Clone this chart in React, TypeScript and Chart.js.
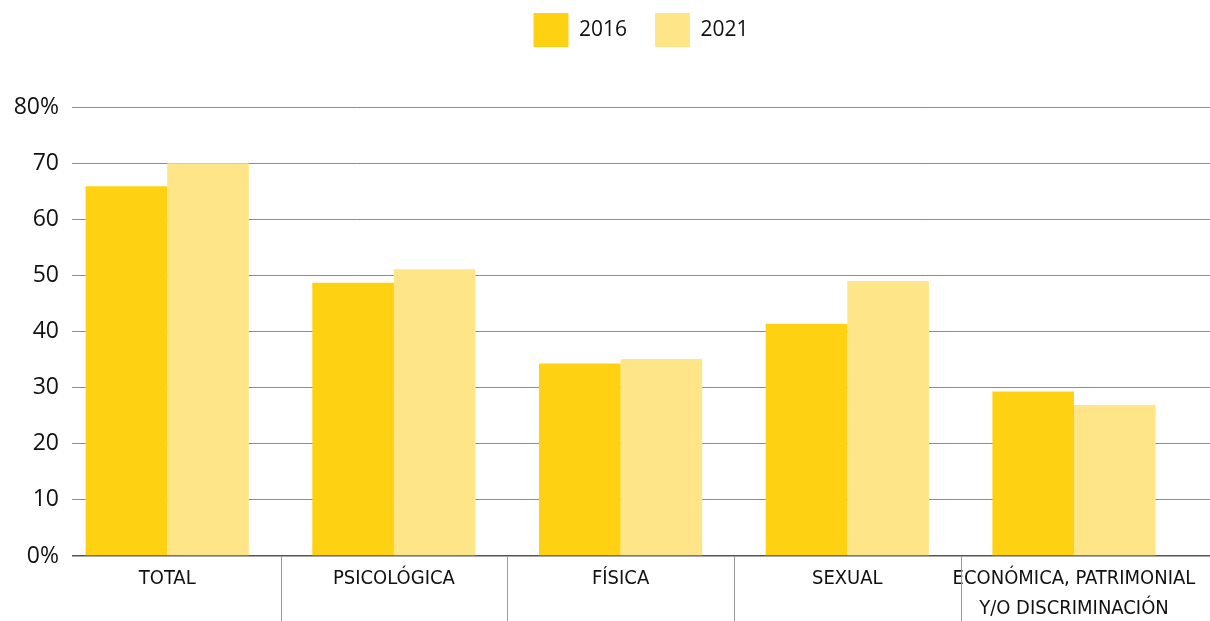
import React, { useEffect, useRef } from "react";
import { Chart, registerables } from "chart.js";

Chart.register(...registerables);

const categories: string[][] = [
  ["TOTAL"],
  ["PSICOLÓGICA"],
  ["FÍSICA"],
  ["SEXUAL"],
  ["ECONÓMICA, PATRIMONIAL", "Y/O DISCRIMINACIÓN"],
];
const seriesNames = ["2016", "2021"];
const values2016 = [65.9, 48.7, 34.3, 41.4, 29.3];
const values2021 = [70.0, 51.1, 35.1, 49.0, 26.9];
const yTickValues = [0, 10, 20, 30, 40, 50, 60, 70, 80];
const yTickLabels = ["0%", "10", "20", "30", "40", "50", "60", "70", "80%"];

const COLOR_2016 = "#FED113";
const COLOR_2021 = "#FEE688";

const separatorPlugin = {
  id: "separators",
  afterDraw(chart: any) {
    const x = chart.scales.x;
    const { ctx, chartArea } = chart;
    ctx.save();
    ctx.strokeStyle = "#9a9a9a";
    ctx.lineWidth = 1;
    for (let i = 0; i < categories.length - 1; i++) {
      const px = Math.round(x.getPixelForValue(i + 0.5)) + 0.5;
      ctx.beginPath();
      ctx.moveTo(px, chartArea.bottom);
      ctx.lineTo(px, chart.height);
      ctx.stroke();
    }
    ctx.restore();
  },
};

export default function App() {
  const ref = useRef<HTMLCanvasElement | null>(null);
  useEffect(() => {
    if (!ref.current) return;
    const chart = new Chart(ref.current, {
      type: "bar",
      data: {
        datasets: [
          {
            label: seriesNames[0],
            data: values2016.map((v, i) => ({ x: i, y: v })),
            backgroundColor: COLOR_2016,
            borderWidth: 0,
            xAxisID: "x",
            yAxisID: "y",
            categoryPercentage: 0.72,
            barPercentage: 1,
          },
          {
            label: seriesNames[1],
            data: values2021.map((v, i) => ({ x: i, y: v })),
            backgroundColor: COLOR_2021,
            borderWidth: 0,
            xAxisID: "x",
            yAxisID: "y",
            categoryPercentage: 0.72,
            barPercentage: 1,
          },
        ],
      },
      plugins: [separatorPlugin],
      options: {
        animation: false,
        responsive: true,
        maintainAspectRatio: false,
        layout: { padding: { top: -15, left: 0, right: 0, bottom: 0 } },
        plugins: {
          legend: {
            position: "top",
            align: "center",
            fullSize: false,
            labels: {
              boxWidth: 35,
              boxHeight: 34,
              padding: 28,
              color: "#111",
              font: { family: "'Open Sans', sans-serif", size: 21 },
            },
          },
          tooltip: { enabled: false },
        },
        scales: {
          x: {
            type: "linear",
            min: -0.42,
            max: 4.6,
            offset: false,
            grid: { display: false, drawTicks: false },
            border: { display: false },
            afterBuildTicks: (s: any) => {
              s.ticks = categories.map((_, i) => ({ value: i }));
            },
            afterFit: (s: any) => {
              s.height = 65;
            },
            ticks: {
              padding: 8,
              color: "#111",
              autoSkip: false,
              maxRotation: 0,
              font: { family: "'Liberation Sans Narrow', 'DejaVu Sans Condensed', sans-serif", size: 20, lineHeight: 1.5 },
              callback: (v: any) => categories[Math.round(Number(v))] ?? "",
            },
          },
          spacer: {
            type: "linear",
            position: "top",
            axis: "x",
            display: true,
            grid: { display: false },
            border: { display: false },
            ticks: { display: false },
            afterFit: (s: any) => {
              s.height = 50;
            },
          },
          y: {
            type: "linear",
            min: 0,
            max: 80,
            afterBuildTicks: (s: any) => {
              s.ticks = yTickValues.map((v) => ({ value: v }));
            },
            afterFit: (s: any) => {
              s.width = 72;
            },
            border: { display: false },
            grid: {
              drawTicks: false,
              color: (c: any) => (c.tick && c.tick.value === 0 ? "#555" : "#8c8c8c"),
              lineWidth: (c: any) => (c.tick && c.tick.value === 0 ? 1.5 : 1),
            },
            ticks: {
              padding: 13,
              color: "#111",
              font: { family: "'Open Sans', sans-serif", size: 23 },
              callback: (v: any) => {
                const idx = yTickValues.indexOf(Number(v));
                return idx >= 0 ? yTickLabels[idx] : "";
              },
            },
          },
        },
      },
    } as any);
    return () => chart.destroy();
  }, []);

  return (
    <div style={{ position: "fixed", left: 0, top: 0, width: 1210, height: 621, background: "#fff" }}>
      <canvas ref={ref} />
    </div>
  );
}
